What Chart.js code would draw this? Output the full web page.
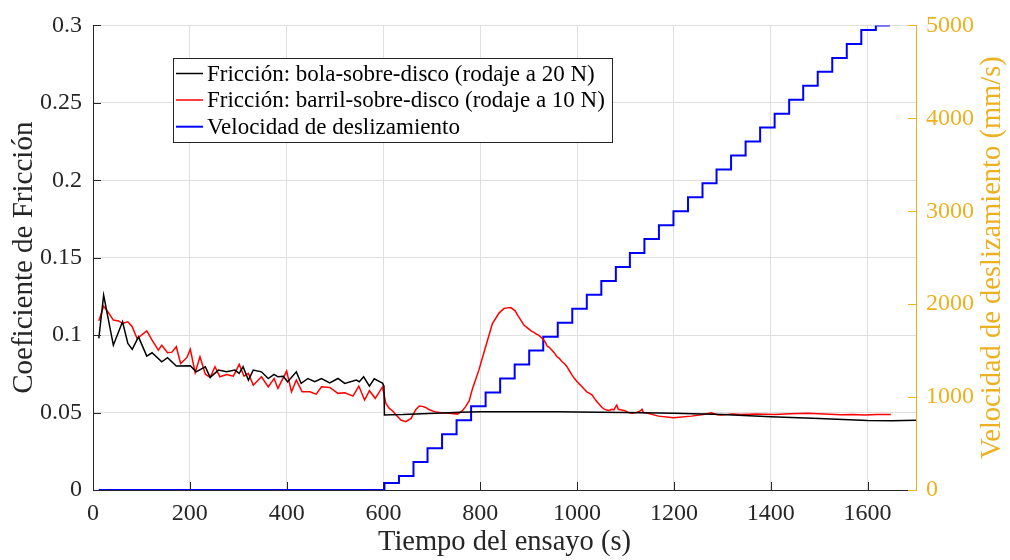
<!DOCTYPE html>
<html>
<head>
<meta charset="utf-8">
<title>Fricción y velocidad de deslizamiento</title>
<script src="https://cdn.jsdelivr.net/npm/chart.js@4.4.1/dist/chart.umd.min.js"></script>
<style>
  html, body { margin: 0; padding: 0; background: #ffffff; }
  #wrap { width: 1010px; height: 560px; position: relative; }
</style>
</head>
<body>
<div id="wrap"><canvas id="chart"></canvas></div>
<script>
// ---- Data -------------------------------------------------------------
// Tiempo (s) y coeficiente de fricción, ensayo bola-sobre-disco
const bolaT = [12, 22, 42, 61, 72, 81, 94, 111, 122, 142,
  154, 172, 201, 213, 232, 242, 259, 276, 293, 302,
  310, 321, 331, 348, 362, 374, 382, 393, 402, 420,
  430, 444, 458, 472, 489, 506, 520, 544, 550, 559,
  571, 581, 592, 598, 601, 602, 615, 640, 680, 720,
  760, 800, 850, 900, 960, 1000, 1100, 1200, 1300, 1400,
  1500, 1600, 1650, 1700];
const bolaMu = [0.0979, 0.1258, 0.0935, 0.1086, 0.0946, 0.0908, 0.0989, 0.0865, 0.0886, 0.0828,
  0.0854, 0.0800, 0.0802, 0.0763, 0.0796, 0.0727, 0.0774, 0.0763, 0.0774, 0.0753,
  0.0796, 0.0710, 0.0774, 0.0763, 0.0720, 0.0746, 0.0731, 0.0735, 0.0699, 0.0763,
  0.0688, 0.0720, 0.0699, 0.0720, 0.0692, 0.0720, 0.0688, 0.0710, 0.0699, 0.0731,
  0.0671, 0.0718, 0.0700, 0.0690, 0.0670, 0.0484, 0.0486, 0.0487, 0.0492, 0.0497,
  0.0502, 0.0505, 0.0506, 0.0505, 0.0505, 0.0503, 0.0501, 0.0495, 0.0487, 0.0473,
  0.0461, 0.0448, 0.0447, 0.0450];

// Tiempo (s) y coeficiente de fricción, ensayo barril-sobre-disco
const barrilT = [12, 22, 33, 42, 53, 61, 72, 81, 91, 111,
  122, 135, 142, 154, 163, 172, 181, 194, 201, 211,
  221, 232, 242, 252, 262, 276, 290, 302, 312, 321,
  331, 348, 362, 374, 382, 400, 410, 420, 432, 448,
  461, 472, 489, 506, 520, 537, 549, 561, 571, 583,
  598, 605, 612, 619, 626, 636, 646, 657, 667, 674,
  680, 687, 695, 705, 719, 736, 753, 763, 770, 777,
  784, 797, 811, 825, 839, 849, 856, 863, 872, 878,
  883, 890, 896, 900, 905, 910, 915, 921, 926, 931,
  935, 938, 943, 948, 953, 958, 963, 969, 974, 979,
  984, 989, 995, 1000, 1005, 1010, 1015, 1020, 1025, 1031,
  1036, 1041, 1046, 1051, 1056, 1061, 1066, 1072, 1076, 1080,
  1082, 1085, 1092, 1099, 1106, 1113, 1120, 1127, 1131, 1134,
  1137, 1144, 1168, 1199, 1236, 1260, 1277, 1290, 1298, 1320,
  1339, 1370, 1408, 1440, 1476, 1510, 1545, 1570, 1593, 1620,
  1648];
const barrilMu = [0.1092, 0.1187, 0.1140, 0.1097, 0.1092, 0.1075, 0.1086, 0.1054, 0.0978, 0.1028,
  0.0968, 0.0903, 0.0935, 0.0886, 0.0890, 0.0925, 0.0817, 0.0856, 0.0908, 0.0757,
  0.0860, 0.0748, 0.0727, 0.0796, 0.0731, 0.0746, 0.0735, 0.0811, 0.0735, 0.0753,
  0.0677, 0.0731, 0.0666, 0.0720, 0.0656, 0.0768, 0.0634, 0.0710, 0.0634, 0.0634,
  0.0619, 0.0666, 0.0662, 0.0624, 0.0628, 0.0606, 0.0671, 0.0581, 0.0641, 0.0592,
  0.0666, 0.0559, 0.0527, 0.0510, 0.0484, 0.0452, 0.0441, 0.0462, 0.0520, 0.0542,
  0.0540, 0.0533, 0.0518, 0.0506, 0.0499, 0.0495, 0.0490, 0.0512, 0.0540, 0.0575,
  0.0656, 0.0774, 0.0925, 0.1075, 0.1144, 0.1172, 0.1176, 0.1178, 0.1157, 0.1125,
  0.1100, 0.1065, 0.1050, 0.1040, 0.1028, 0.1020, 0.1008, 0.0998, 0.0985, 0.0968,
  0.0950, 0.0930, 0.0920, 0.0903, 0.0885, 0.0862, 0.0850, 0.0828, 0.0815, 0.0796,
  0.0770, 0.0745, 0.0718, 0.0699, 0.0683, 0.0667, 0.0650, 0.0634, 0.0625, 0.0613,
  0.0590, 0.0570, 0.0552, 0.0534, 0.0522, 0.0516, 0.0514, 0.0521, 0.0518, 0.0540,
  0.0548, 0.0521, 0.0516, 0.0512, 0.0500, 0.0495, 0.0498, 0.0505, 0.0512, 0.0521,
  0.0500, 0.0497, 0.0477, 0.0466, 0.0477, 0.0488, 0.0499, 0.0486, 0.0484, 0.0490,
  0.0488, 0.0490, 0.0488, 0.0492, 0.0495, 0.0490, 0.0486, 0.0488, 0.0484, 0.0488,
  0.0488];

// Velocidad de deslizamiento (mm/s): instante de cada escalón y nivel alcanzado
const velT = [12, 602, 632, 662, 691, 721, 751, 781, 811, 841,
  871, 901, 930, 960, 990, 1020, 1050, 1080, 1109, 1139,
  1169, 1199, 1229, 1259, 1288, 1318, 1348, 1378, 1408, 1438,
  1467, 1497, 1527, 1557, 1587, 1617, 1646];
const velV = [0, 75, 150, 300, 450, 600, 750, 900, 1050, 1200,
  1350, 1500, 1650, 1800, 1950, 2100, 2250, 2400, 2550, 2700,
  2850, 3000, 3150, 3300, 3450, 3600, 3750, 3900, 4050, 4200,
  4350, 4500, 4650, 4800, 4950, 5000, 5000];

// Marcas de los ejes
const xTicks = [0, 200, 400, 600, 800, 1000, 1200, 1400, 1600];
const yTicks = [0, 0.05, 0.1, 0.15, 0.2, 0.25, 0.3];
const yTickLabels = ['0', '0.05', '0.1', '0.15', '0.2', '0.25', '0.3'];
const y1Ticks = [0, 1000, 2000, 3000, 4000, 5000];

// Textos
const seriesLabels = [
  'Fricción: bola-sobre-disco (rodaje a 20 N)',
  'Fricción: barril-sobre-disco (rodaje a 10 N)',
  'Velocidad de deslizamiento'
];
const xTitle = 'Tiempo del ensayo (s)';
const yTitle = 'Coeficiente de Fricción';
const y1Title = 'Velocidad de deslizamiento (mm/s)';

// ---- Style ------------------------------------------------------------
const FONT = "'Liberation Serif', 'Times New Roman', serif";
const AXIS = '#262626';
const ORANGE = '#EDB120';
const GRID = '#dfdfdf';
const TICK_LEN = 8;

const toPts = (xs, ys) => xs.map((x, i) => ({ x: x, y: ys[i] }));

// Short tick marks drawn inside the plot area, right-side title and legend box
const decorations = {
  id: 'decorations',
  afterDraw(chart) {
    const { ctx, chartArea: a, scales } = chart;
    const al = v => Math.round(v) + 0.5;
    ctx.save();
    ctx.lineWidth = 1;

    ctx.strokeStyle = AXIS;
    ctx.beginPath();
    scales.x.ticks.forEach(t => {
      const px = al(scales.x.getPixelForValue(t.value));
      ctx.moveTo(px, a.bottom); ctx.lineTo(px, a.bottom - TICK_LEN);
    });
    scales.y.ticks.forEach(t => {
      const py = al(scales.y.getPixelForValue(t.value));
      ctx.moveTo(a.left, py); ctx.lineTo(a.left + TICK_LEN, py);
    });
    ctx.stroke();

    ctx.strokeStyle = ORANGE;
    ctx.beginPath();
    scales.y1.ticks.forEach(t => {
      const py = al(scales.y1.getPixelForValue(t.value));
      ctx.moveTo(a.right, py); ctx.lineTo(a.right - TICK_LEN, py);
    });
    ctx.stroke();

    // right axis title, reading bottom to top
    ctx.fillStyle = ORANGE;
    ctx.font = '28.5px ' + FONT;
    ctx.textAlign = 'center';
    ctx.textBaseline = 'middle';
    ctx.translate(993, (a.top + a.bottom) / 2);
    ctx.rotate(-Math.PI / 2);
    ctx.fillText(y1Title, 0, 0);
    ctx.restore();

    // legend
    ctx.save();
    const bx = 173.5, by = 58.5, bw = 439, bh = 84;
    ctx.fillStyle = '#ffffff';
    ctx.fillRect(bx, by, bw, bh);
    ctx.strokeStyle = AXIS;
    ctx.lineWidth = 1;
    ctx.strokeRect(bx, by, bw, bh);
    ctx.font = '23px ' + FONT;
    ctx.textAlign = 'left';
    ctx.textBaseline = 'middle';
    const rowY = [73.5, 100, 126.7];
    chart.data.datasets.forEach((ds, i) => {
      ctx.strokeStyle = ds.borderColor;
      ctx.lineWidth = ds.borderWidth;
      ctx.beginPath();
      ctx.moveTo(176, rowY[i]); ctx.lineTo(203, rowY[i]);
      ctx.stroke();
      ctx.fillStyle = '#000000';
      ctx.fillText(ds.label, 207, rowY[i] + 1);
    });
    ctx.restore();
  }
};

new Chart(document.getElementById('chart'), {
  type: 'line',
  data: {
    datasets: [
      { label: seriesLabels[0], data: toPts(bolaT, bolaMu), yAxisID: 'y',
        borderColor: '#000000', borderWidth: 1.5, pointRadius: 0, tension: 0 },
      { label: seriesLabels[1], data: toPts(barrilT, barrilMu), yAxisID: 'y',
        borderColor: '#ff0000', borderWidth: 1.5, pointRadius: 0, tension: 0 },
      { label: seriesLabels[2], data: toPts(velT, velV), yAxisID: 'y1',
        borderColor: '#0000ff', borderWidth: 2, pointRadius: 0, stepped: 'before' }
    ]
  },
  options: {
    responsive: true,
    maintainAspectRatio: false,
    animation: false,
    devicePixelRatio: 1,
    layout: { padding: { top: 24, right: 0, bottom: 0, left: 0 } },
    plugins: { legend: { display: false }, tooltip: { enabled: false } },
    scales: {
      x: {
        type: 'linear', min: 0, max: 1700,
        afterBuildTicks: s => { s.ticks = xTicks.map(v => ({ value: v })); },
        afterFit: s => { s.height = 70; },
        grid: { color: GRID, lineWidth: 1, drawTicks: false },
        border: { color: AXIS, width: 1 },
        ticks: { padding: 9, color: AXIS, font: { family: FONT, size: 24 },
                 maxRotation: 0, callback: v => String(v) },
        title: { display: true, text: xTitle, color: AXIS,
                 font: { family: FONT, size: 28.5 }, padding: { top: 0, bottom: 0 } }
      },
      y: {
        type: 'linear', position: 'left', min: 0, max: 0.3,
        afterBuildTicks: s => { s.ticks = yTicks.map(v => ({ value: v })); },
        afterFit: s => { s.width = 93; },
        grid: { color: GRID, lineWidth: 1, drawTicks: false },
        border: { color: AXIS, width: 1 },
        ticks: { padding: 11, color: AXIS, font: { family: FONT, size: 24 },
                 callback: (v, i) => yTickLabels[i] },
        title: { display: true, text: yTitle, color: AXIS,
                 font: { family: FONT, size: 29 }, padding: { top: 7, bottom: 0 } }
      },
      y1: {
        type: 'linear', position: 'right', min: 0, max: 5000,
        afterBuildTicks: s => { s.ticks = y1Ticks.map(v => ({ value: v })); },
        afterFit: s => { s.width = 94; },
        grid: { display: false, drawTicks: false },
        border: { color: ORANGE, width: 1 },
        ticks: { padding: 10, color: ORANGE, font: { family: FONT, size: 24 },
                 callback: v => String(v) }
      }
    }
  },
  plugins: [decorations]
});
</script>
</body>
</html>
